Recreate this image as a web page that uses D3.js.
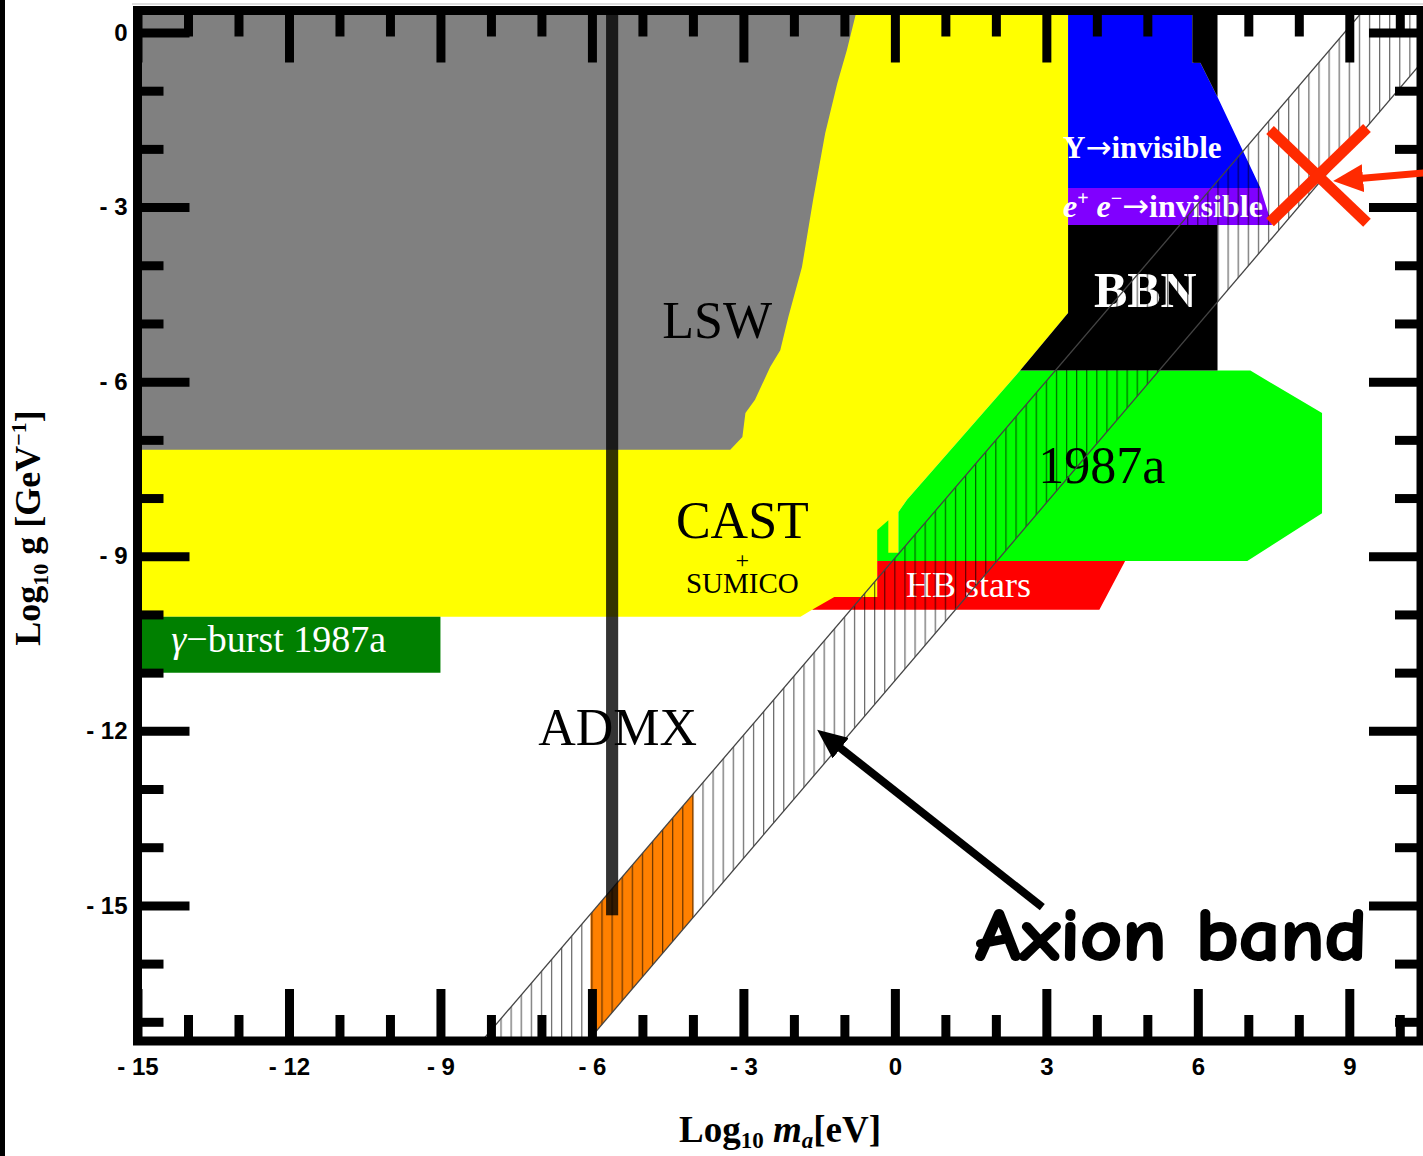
<!DOCTYPE html>
<meta charset="utf-8">
<script src="https://d3js.org/d3.v7.min.js"></script>
<style>
  body { margin: 0; background: #fff; }
  text { font-family: "Liberation Serif", "Times New Roman", serif; }
  .tick text { font-family: "Liberation Sans", Arial, sans-serif; font-weight: bold; font-size: 24px; fill: #000; }
  .tick line { stroke: #000; stroke-width: 9px; }
  .domain { display: none; }
  .arr { font-family: "DejaVu Sans", sans-serif; }
</style>
<body>
<script>
// axis ticks
var xMajor = [-15, -12, -9, -6, -3, 0, 3, 6, 9];
var xMinor = [-14, -13, -11, -10, -8, -7, -5, -4, -2, -1, 1, 2, 4, 5, 7, 8, 10];
var yMajor = [0, -3, -6, -9, -12, -15];
var yMinor = [-1, -2, -4, -5, -7, -8, -10, -11, -13, -14, -16, -17];

// excluded regions, [log10 m_a, log10 g]
var lswRegion = [[-15, 0.4], [-0.75, 0.4], [-0.95, -0.30], [-1.14, -0.87], [-1.38, -1.73], [-1.62, -2.88],
  [-1.84, -4.03], [-2.11, -4.89], [-2.27, -5.46], [-2.47, -5.75], [-2.77, -6.31], [-2.96, -6.54],
  [-3.02, -6.95], [-3.26, -7.17], [-15, -7.17]];
var castRegion = [[-15, 0.4], [3.43, 0.4], [3.43, -4.82], [2.48, -5.81], [0.24, -8.03], [0.07, -8.24],
  [0.07, -9.08], [-0.35, -9.08], [-0.35, -9.70], [-1.64, -9.92], [-1.87, -10.04], [-15, -10.04]];
var gammaBurst = [[-15, -10.04], [-9.0, -10.04], [-9.0, -11.0], [-15, -11.0]];
var sn1987Region = [[2.48, -5.81], [7.04, -5.81], [8.46, -6.54], [8.46, -8.26], [6.98, -9.08],
  [-0.35, -9.08], [-0.35, -8.55], [-0.13, -8.38], [-0.13, -8.94], [0.07, -8.94], [0.07, -8.24], [0.24, -8.03]];
var hbRegion = [[-0.35, -9.08], [4.56, -9.08], [4.05, -9.92], [-1.64, -9.92], [-1.20, -9.70], [-0.35, -9.70]];
var upsilonRegion = [[3.43, 0.4], [5.89, 0.4], [5.89, -0.52], [6.05, -0.52], [6.39, -1.11], [7.24, -2.67], [3.43, -2.67]];
var eeRegion = [[3.43, -2.67], [7.24, -2.67], [7.47, -3.31], [3.43, -3.31]];
var bbnRegion = [[3.43, -3.31], [6.39, -3.31], [6.39, -5.81], [2.48, -5.81], [3.43, -4.82]];
var bbnCap = [[5.89, 0.4], [6.39, 0.4], [6.39, -1.11], [6.05, -0.52], [5.89, -0.52]];

// axion band edges and ADMX
var axionUpper = [[-8.2, -17.35], [9.3, 0.4]];
var axionLower = [[-6.1, -17.35], [11.33, 0.4]];
var admxBand = [[-6.03, -15.15], [-3.99, -13.08], [-3.99, -15.2], [-6.03, -17.28]];
var admxBar = {x0: -5.72, x1: -5.48, y0: 0.4, y1: -15.17};

// annotations
var crossArms = [[[7.43, -1.675], [9.35, -3.27]], [[7.43, -3.26], [9.35, -1.64]]];
var redArrow = [[10.5, -2.41], [8.68, -2.55]];
var bandArrow = [[2.92, -15.03], [-1.54, -11.98]];

var W = 1423, H = 1156;
var x = d3.scaleLinear().domain([-15, 10.42]).range([137.5, 1421]);
var y = d3.scaleLinear().domain([0.378, -17.33]).range([10.5, 1041]);

var svg = d3.select('body').append('svg').attr('width', W).attr('height', H);
var defs = svg.append('defs');

defs.append('clipPath').attr('id', 'plotclip').append('rect')
  .attr('x', x(-15)).attr('y', y(0.378))
  .attr('width', x(10.42) - x(-15)).attr('height', y(-17.33) - y(0.378));

var step = x(0.2) - x(0);
var pat = defs.append('pattern').attr('id', 'hatch')
  .attr('patternUnits', 'userSpaceOnUse')
  .attr('x', x(0) - 0.6).attr('y', 0).attr('width', step).attr('height', 20);
pat.append('line').attr('x1', 0.6).attr('x2', 0.6).attr('y1', 0).attr('y2', 20)
  .attr('stroke', '#000').attr('stroke-opacity', 0.6).attr('stroke-width', 1.2);

function head(id, color, L, Wd, s) {
  defs.append('marker').attr('id', id)
    .attr('markerUnits', 'userSpaceOnUse')
    .attr('markerWidth', L).attr('markerHeight', Wd)
    .attr('viewBox', '0 0 ' + L + ' ' + Wd)
    .attr('refX', L - s).attr('refY', Wd / 2)
    .attr('orient', 'auto')
    .append('path').attr('d', 'M0,0L' + L + ',' + (Wd / 2) + 'L0,' + Wd + 'Z').attr('fill', color);
}
head('hBlack', '#000', 30, 26, 16);
head('hRed', '#ff2a00', 30, 28, 15);

var line = d3.line().x(function(d){return x(d[0]);}).y(function(d){return y(d[1]);});
function poly(pts) { return line(pts) + 'Z'; }

var plot = svg.append('g').attr('clip-path', 'url(#plotclip)');

var regions = [
  {pts: castRegion, fill: '#ffff00'},
  {pts: lswRegion, fill: '#808080'},
  {pts: gammaBurst, fill: '#008000'},
  {pts: sn1987Region, fill: '#00ff00'},
  {pts: hbRegion, fill: '#ff0000'},
  {pts: upsilonRegion, fill: '#0000ff'},
  {pts: eeRegion, fill: '#8000ff'},
  {pts: bbnRegion, fill: '#000000'},
  {pts: bbnCap, fill: '#000000'},
  {pts: admxBand, fill: '#ff8000'}
];
plot.selectAll('path.region').data(regions).enter().append('path')
  .attr('class', 'region')
  .attr('d', function(d){return poly(d.pts);})
  .attr('fill', function(d){return d.fill;});

// labels inside the plot
var labels = plot.append('g');
function label(px, py, size, color, anchor, weight) {
  return labels.append('text').attr('x', x(px)).attr('y', y(py))
    .attr('font-size', size).attr('fill', color)
    .attr('text-anchor', anchor).attr('font-weight', weight || 'normal');
}
label(-3.52, -5.25, 52, '#000', 'middle').text('LSW');
label(-3.02, -8.69, 52, '#000', 'middle').text('CAST');
label(-3.02, -9.2, 24, '#000', 'middle').text('+');
label(-3.02, -9.63, 29, '#000', 'middle').text('SUMICO');
label(-5.49, -12.24, 52, '#000', 'middle').text('ADMX');
label(4.96, -4.72, 50, '#fff', 'middle', 'bold').text('BBN');
var ups = label(3.33, -2.16, 31, '#fff', 'start', 'bold');
ups.append('tspan').text('\u03a5');
ups.append('tspan').attr('class', 'arr').attr('font-weight', 'normal').text('\u2192');
ups.append('tspan').text('invisible');
var ee = label(3.33, -3.17, 32, '#fff', 'start', 'bold');
ee.append('tspan').attr('font-style', 'italic').text('e');
ee.append('tspan').attr('font-size', 20).attr('dy', -12).text('+');
ee.append('tspan').attr('font-style', 'italic').attr('dy', 12).text(' e');
ee.append('tspan').attr('font-size', 20).attr('dy', -12).text('\u2212');
ee.append('tspan').attr('dy', 12).attr('class', 'arr').attr('font-weight', 'normal').text('\u2192');
ee.append('tspan').text('invisible');
label(4.1, -7.74, 52, '#000', 'middle').text('1987a');
label(0.22, -9.70, 36, '#fff', 'start').text('HB stars');
var gb = label(-14.33, -10.64, 38, '#fff', 'start');
gb.append('tspan').attr('font-style', 'italic').text('\u03b3');
gb.append('tspan').text('\u2212burst 1987a');

// axion band
var bandPoly = axionUpper.concat(axionLower.slice().reverse());
plot.append('path').attr('d', poly(bandPoly)).attr('fill', 'url(#hatch)');
plot.selectAll('path.edge').data([axionUpper, axionLower]).enter().append('path')
  .attr('class', 'edge').attr('d', line)
  .attr('fill', 'none').attr('stroke', '#444').attr('stroke-width', 1.3);

plot.append('rect')
  .attr('x', x(admxBar.x0)).attr('width', x(admxBar.x1) - x(admxBar.x0))
  .attr('y', y(admxBar.y0)).attr('height', y(admxBar.y1) - y(admxBar.y0))
  .attr('fill', '#000').attr('fill-opacity', 0.8);

// ticks
var fmt = function(d){ return d < 0 ? '- ' + (-d) : String(d); };
var x0 = x.range()[0], x1 = x.range()[1], y0 = y.range()[0], y1 = y.range()[1];
svg.append('g').attr('transform', 'translate(0,' + y1 + ')')
  .call(d3.axisBottom(x).tickValues(xMajor).tickSize(-52).tickPadding(17).tickFormat(fmt));
svg.append('g').attr('transform', 'translate(0,' + y1 + ')')
  .call(d3.axisBottom(x).tickValues(xMinor).tickSize(-26).tickFormat(''));
svg.append('g').attr('transform', 'translate(0,' + y0 + ')')
  .call(d3.axisTop(x).tickValues(xMajor).tickSize(-52).tickFormat(''));
svg.append('g').attr('transform', 'translate(0,' + y0 + ')')
  .call(d3.axisTop(x).tickValues(xMinor).tickSize(-26).tickFormat(''));
svg.append('g').attr('transform', 'translate(' + x0 + ',0)')
  .call(d3.axisLeft(y).tickValues(yMajor).tickSize(-52).tickPadding(10).tickFormat(fmt));
svg.append('g').attr('transform', 'translate(' + x0 + ',0)')
  .call(d3.axisLeft(y).tickValues(yMinor).tickSize(-26).tickFormat(''));
svg.append('g').attr('transform', 'translate(' + x1 + ',0)')
  .call(d3.axisRight(y).tickValues(yMajor).tickSize(-52).tickFormat(''));
svg.append('g').attr('transform', 'translate(' + x1 + ',0)')
  .call(d3.axisRight(y).tickValues(yMinor).tickSize(-26).tickFormat(''));

// frame
svg.append('rect').attr('x', x0).attr('y', y0).attr('width', x1 - x0).attr('height', y1 - y0)
  .attr('fill', 'none').attr('stroke', '#000').attr('stroke-width', 9);
svg.append('line').attr('x1', 132).attr('x2', W).attr('y1', 4).attr('y2', 4)
  .attr('stroke', '#bbb').attr('stroke-width', 1);
svg.append('rect').attr('x', 0).attr('y', 0).attr('width', 5).attr('height', H).attr('fill', '#000');

// axis titles
var xt = svg.append('text').attr('x', 780).attr('y', 1142).attr('text-anchor', 'middle')
  .attr('font-size', 37).attr('font-weight', 'bold');
xt.append('tspan').text('Log');
xt.append('tspan').attr('font-size', 23).attr('dy', 6).text('10');
xt.append('tspan').attr('dy', -6).attr('font-style', 'italic').text(' m');
xt.append('tspan').attr('font-size', 23).attr('dy', 6).attr('font-style', 'italic').text('a');
xt.append('tspan').attr('dy', -6).text('[eV]');

var yt = svg.append('text').attr('transform', 'translate(40,528) rotate(-90)')
  .attr('text-anchor', 'middle').attr('font-size', 36).attr('font-weight', 'bold');
yt.append('tspan').text('Log');
yt.append('tspan').attr('font-size', 22).attr('dy', 8).text('10');
yt.append('tspan').attr('dy', -8).text(' g [GeV');
yt.append('tspan').attr('font-size', 22).attr('dy', -14).text('\u22121');
yt.append('tspan').attr('dy', 14).text(']');

// annotations
var ann = svg.append('g');
ann.selectAll('line.arm').data(crossArms).enter().append('line').attr('class', 'arm')
  .attr('x1', function(d){return x(d[0][0]);}).attr('y1', function(d){return y(d[0][1]);})
  .attr('x2', function(d){return x(d[1][0]);}).attr('y2', function(d){return y(d[1][1]);})
  .attr('stroke', '#ff2a00').attr('stroke-width', 11);

function arrow(pts, color, w, mk, back) {
  var ax = x(pts[0][0]), ay = y(pts[0][1]), bx = x(pts[1][0]), by = y(pts[1][1]);
  var len = Math.hypot(bx - ax, by - ay);
  var ex = bx - (bx - ax) / len * back, ey = by - (by - ay) / len * back;
  ann.append('line').attr('x1', ax).attr('y1', ay).attr('x2', ex).attr('y2', ey)
    .attr('stroke', color).attr('stroke-width', w).attr('marker-end', 'url(#' + mk + ')');
}
arrow(redArrow, '#ff2a00', 7, 'hRed', 15);
arrow(bandArrow, '#000', 8, 'hBlack', 16);

ann.append('text').attr('x', x(1.59)).attr('y', y(-15.94))
  .style('font-family', '"Comic Sans MS", "Comic Neue", Lato, sans-serif')
  .attr('font-weight', 'bold').attr('font-size', 74)
  .attr('stroke', '#000').attr('stroke-width', 2)
  .attr('textLength', 392).attr('lengthAdjust', 'spacingAndGlyphs')
  .text('Axion band');
</script>
</body>
